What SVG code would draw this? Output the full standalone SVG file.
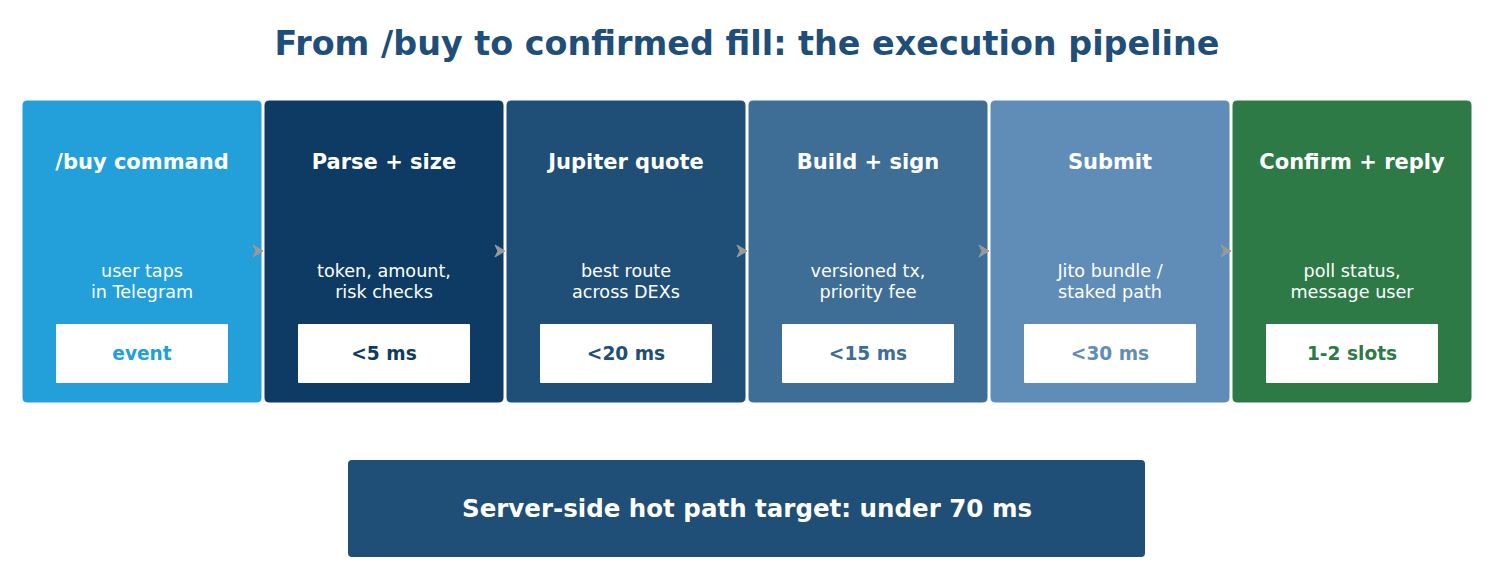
<svg xmlns="http://www.w3.org/2000/svg" width="1499" height="572" viewBox="0 0 1499 572">
<style>
text{font-family:"DejaVu Sans",sans-serif;text-anchor:middle}
.card{stroke:#ffffff;stroke-width:1}
.hd{font-size:21px;font-weight:bold;fill:#ffffff}
.sub{font-size:17.6px;fill:#ffffff}
.tag{fill:#ffffff}
.tt{font-size:18.6px;font-weight:bold}
.arr{fill:#999999;stroke:#999999;stroke-width:1;stroke-linejoin:round}
</style>
<defs>
<path id="ah" d="M-9 -6 L1 0 L-9 6 L-6 0 Z"/>
</defs>
<rect width="1499" height="572" fill="#ffffff"/>
<text x="747" y="55" style="font-size:33.4px;font-weight:bold;fill:#1f4e79">From /buy to confirmed fill: the execution pipeline</text>
<g id="n1">
<rect class="card" x="22" y="100" width="240" height="303" rx="5" fill="#239fd9"/>
<text class="hd" x="142" y="169">/buy command</text>
<text class="sub" x="142" y="277">user taps</text>
<text class="sub" x="142" y="298">in Telegram</text>
<rect class="tag" x="56" y="324" width="172" height="59" rx="1"/>
<text class="tt" x="142" y="360" fill="#239fd9">event</text>
</g>
<g id="n2">
<rect class="card" x="264" y="100" width="240" height="303" rx="5" fill="#0d3b63"/>
<text class="hd" x="384" y="169">Parse + size</text>
<text class="sub" x="384" y="277">token, amount,</text>
<text class="sub" x="384" y="298">risk checks</text>
<rect class="tag" x="298" y="324" width="172" height="59" rx="1"/>
<text class="tt" x="384" y="360" fill="#0d3b63">&lt;5 ms</text>
</g>
<g id="n3">
<rect class="card" x="506" y="100" width="240" height="303" rx="5" fill="#1f4e76"/>
<text class="hd" x="626" y="169">Jupiter quote</text>
<text class="sub" x="626" y="277">best route</text>
<text class="sub" x="626" y="298">across DEXs</text>
<rect class="tag" x="540" y="324" width="172" height="59" rx="1"/>
<text class="tt" x="626" y="360" fill="#1f4e76">&lt;20 ms</text>
</g>
<g id="n4">
<rect class="card" x="748" y="100" width="240" height="303" rx="5" fill="#3e6d96"/>
<text class="hd" x="868" y="169">Build + sign</text>
<text class="sub" x="868" y="277">versioned tx,</text>
<text class="sub" x="868" y="298">priority fee</text>
<rect class="tag" x="782" y="324" width="172" height="59" rx="1"/>
<text class="tt" x="868" y="360" fill="#3e6d96">&lt;15 ms</text>
</g>
<g id="n5">
<rect class="card" x="990" y="100" width="240" height="303" rx="5" fill="#5f8db8"/>
<text class="hd" x="1110" y="169">Submit</text>
<text class="sub" x="1110" y="277">Jito bundle /</text>
<text class="sub" x="1110" y="298">staked path</text>
<rect class="tag" x="1024" y="324" width="172" height="59" rx="1"/>
<text class="tt" x="1110" y="360" fill="#5f8db8">&lt;30 ms</text>
</g>
<g id="n6">
<rect class="card" x="1232" y="100" width="240" height="303" rx="5" fill="#2e7a47"/>
<text class="hd" x="1352" y="169">Confirm + reply</text>
<text class="sub" x="1352" y="277">poll status,</text>
<text class="sub" x="1352" y="298">message user</text>
<rect class="tag" x="1266" y="324" width="172" height="59" rx="1"/>
<text class="tt" x="1352" y="360" fill="#2e7a47">1-2 slots</text>
</g>
<g id="connectors">
<use href="#ah" class="arr" transform="translate(262 251)"/>
<use href="#ah" class="arr" transform="translate(504 251)"/>
<use href="#ah" class="arr" transform="translate(746 251)"/>
<use href="#ah" class="arr" transform="translate(988 251)"/>
<use href="#ah" class="arr" transform="translate(1230 251)"/>
</g>
<g id="summary">
<rect x="348" y="460" width="797" height="97" rx="4" fill="#1f4e76"/>
<text x="747" y="517" style="font-size:24.5px;font-weight:bold;fill:#ffffff">Server-side hot path target: under 70 ms</text>
</g>
</svg>
